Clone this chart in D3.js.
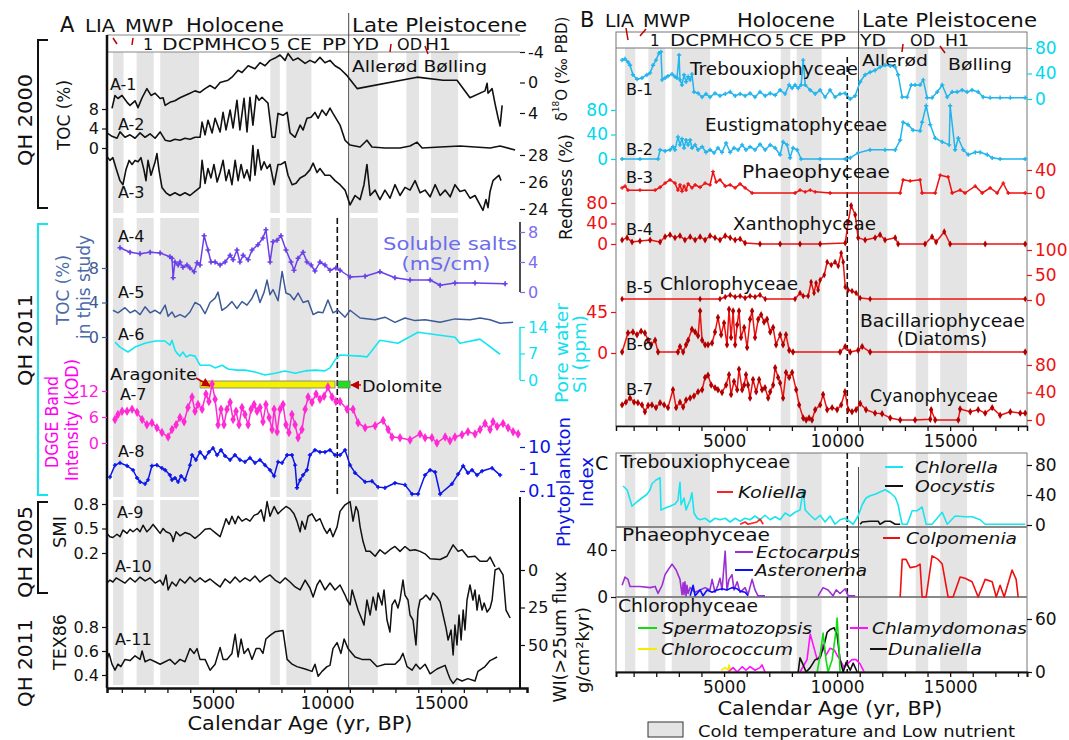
<!DOCTYPE html>
<html>
<head>
<meta charset="utf-8">
<script src="https://cdn.jsdelivr.net/npm/d3@7/dist/d3.min.js"></script>
<style>
  body { margin: 0; background: #fff; }
  svg text { font-family: "DejaVu Sans", "Liberation Sans", Arial, sans-serif; }
</style>
</head>
<body>
<svg id="chart" width="1069" height="740"></svg>
<script>
// ---- data: [age (yr BP), value] ----
const coldBands = [[615,1075],[1650,2400],[2685,4385],[7510,7930],[8215,9315],[11015,12225],[13480,14030],[14560,15750]];
const holoceneEnd = 10950;
const dashedAge = 10450;
const ageTicks = [1000,2000,3000,4000,5000,6000,7000,8000,9000,10000,11000,12000,13000,14000,15000,16000,17000,18000];
const ageLabels = [5000, 10000, 15000];
const mineralNames = ["Aragonite", "Dolomite"];
const mineralStart = [4430, 10480];
const mineralEnd = [10350, 11010];

const a1 = [[570,3.4],[700,1.7],[830,2.1],[1010,1.7],[1230,2.6],[1360,3.0],[1580,2.4],[1710,3.3],[1890,2.0],[2100,0.8],[2280,1.7],[2460,1.4],[2680,2.1],[2810,2.0],[2900,3.0],[3110,2.6],[3330,2.4],[3550,2.0],[3770,1.7],[3990,1.4],[4210,1.1],[4430,1.3],[4650,0.8],[4870,0.4],[5090,0.8],[5310,0],[5660,-0.3],[5830,-0.7],[6100,-1.6],[6270,-1.3],[6540,-2.2],[6840,-1.8],[7060,-2.6],[7280,-2.2],[7500,-2.9],[7720,-3.2],[7940,-3.6],[8160,-2.9],[8290,-3.8],[8510,-2.9],[8730,-3.2],[9040,-2.5],[9250,-2.9],[9470,-2.6],[9690,-3.3],[9910,-2.6],[10130,-2.9],[10350,-2.2],[10570,-1.8],[10880,-0.9],[11320,0.8],[13950,-0.7],[15090,-0.3],[15700,-0.3],[16270,2.0],[16930,1.1],[17020,0.1],[17060,1.4],[17240,0.8],[17370,2.8],[17500,4.6],[17590,5.7],[17680,3.0]];
const a2 = [[350,3.1],[570,2.4],[790,2.0],[920,3.3],[1140,2.2],[1360,2.7],[1580,2.0],[1800,3.1],[2020,2.2],[2240,2.9],[2460,2.0],[2680,3.3],[2900,1.6],[3110,1.4],[3330,1.8],[3550,1.6],[3770,2.0],[3990,1.8],[4210,2.2],[4430,2.2],[4520,5.3],[4650,2.7],[4780,5.7],[4960,3.1],[5090,6.1],[5310,3.3],[5440,7.3],[5570,3.7],[5750,7.8],[5880,4.1],[6050,9.8],[6180,3.7],[6360,10.2],[6490,3.3],[6620,10.4],[6750,4.7],[6890,10.8],[7020,9.8],[7150,10.4],[7280,9.8],[7410,9.2],[7590,2.2],[7720,2.2],[7850,7.1],[8070,6.7],[8250,7.3],[8380,3.1],[8600,2.2],[8820,4.7],[8950,3.7],[9120,6.1],[9300,6.3],[9470,7.3],[9610,6.1],[9780,7.8],[9960,6.7],[10130,8.2],[10260,7.1],[10570,4.7],[10790,1.6],[11010,0.6],[11450,0.2],[11750,1.6],[11970,0.2],[12540,0],[13200,0],[13640,0.4],[13950,1.2],[14170,0],[14960,0.2],[15830,0.4],[16490,0.2],[17150,0],[17590,0.4],[18250,-0.4]];
const a3 = [[350,27.9],[480,27.6],[610,27.8],[750,27.0],[920,26.1],[1050,25.8],[1180,26.9],[1320,27.6],[1450,27.3],[1580,27.6],[1710,27.5],[1840,27.8],[1970,26.9],[2060,26.1],[2150,27.6],[2280,26.5],[2460,27.5],[2540,28.1],[2630,26.9],[2760,25.6],[2940,25.2],[3110,25.0],[3330,25.2],[3550,25.0],[3770,25.2],[3990,25.0],[4210,25.3],[4430,25.6],[4520,27.6],[4650,25.9],[4780,27.0],[4910,26.3],[5040,27.3],[5180,26.0],[5310,26.7],[5440,27.6],[5570,26.1],[5700,26.9],[5830,25.8],[5970,27.6],[6100,26.1],[6230,27.3],[6360,26.3],[6490,26.9],[6620,26.1],[6750,28.7],[6840,26.5],[6970,28.4],[7110,26.9],[7240,27.5],[7370,27.0],[7500,27.3],[7680,25.8],[7850,27.3],[7980,27.3],[8160,27.5],[8290,26.5],[8470,25.8],[8640,25.9],[8820,26.3],[9040,26.5],[9250,26.9],[9390,27.4],[9560,26.7],[9690,27.0],[9910,26.5],[10130,26.5],[10350,26.1],[10570,25.8],[10790,25.4],[11010,24.3],[11230,25.0],[11450,24.7],[11620,25.8],[11750,27.3],[11890,25.0],[12110,25.4],[12320,24.7],[12540,25.4],[12760,24.8],[12980,25.8],[13200,25.0],[13420,25.6],[13640,25.4],[13860,26.1],[14080,25.2],[14300,25.4],[14520,24.9],[14740,25.8],[14960,25.0],[15180,25.4],[15400,24.9],[15610,25.8],[15830,25.3],[16050,25.4],[16270,24.8],[16490,25.0],[16710,24.3],[16840,23.9],[16970,24.7],[17060,24.1],[17150,25.3],[17280,26.1],[17410,26.3],[17540,26.5],[17630,26.1]];
const a4 = [[920,5.9],[1360,5.3],[1800,5.1],[2240,5.3],[2680,5.2],[3110,4.7],[3200,4.5],[3250,1.9],[3330,4.0],[3470,3.6],[3550,4.0],[3680,3.3],[3860,3.6],[3990,3.2],[4170,2.7],[4300,3.9],[4430,3.6],[4610,7.5],[4780,5.6],[4910,4.0],[5090,4.0],[5310,3.6],[5530,4.0],[5750,4.9],[5880,4.3],[6050,5.6],[6180,4.0],[6320,4.9],[6540,4.3],[6710,5.6],[6970,6.3],[7190,7.2],[7320,8.3],[7500,4.0],[7630,6.7],[7810,6.9],[7980,7.5],[8200,5.6],[8420,4.0],[8550,2.9],[8730,4.5],[8950,5.3],[9120,4.0],[9300,3.6],[9470,2.8],[9690,4.0],[9910,3.6],[10130,2.9],[10390,3.2],[10570,2.9],[11010,2.0],[11670,2.1],[12320,2.7],[12980,1.9],[13640,1.6],[14520,1.6],[14960,0.9],[15610,1.2],[16490,1.2],[17810,1.1]];
const a5 = [[610,3.1],[830,2.8],[1140,3.4],[1360,2.8],[1580,3.1],[1800,2.6],[2020,3.5],[2240,2.8],[2460,3.1],[2680,2.7],[2900,3.7],[3030,2.4],[3200,2.9],[3330,2.3],[3550,2.6],[3770,2.3],[3990,2.9],[4210,4.0],[4430,3.7],[4650,2.7],[4870,4.0],[5090,4.5],[5220,5.2],[5390,3.1],[5610,3.5],[5830,4.1],[6050,3.3],[6270,4.1],[6490,3.7],[6710,4.5],[6890,5.5],[7060,4.0],[7240,5.2],[7370,6.6],[7500,4.9],[7630,5.5],[7850,4.2],[8030,7.6],[8200,5.1],[8380,4.9],[8550,4.3],[8730,5.1],[8950,4.0],[9170,4.2],[9390,2.6],[9610,2.9],[9820,2.8],[10040,4.3],[10260,2.8],[10480,3.1],[10790,2.3],[11010,3.1],[11450,2.2],[12110,2.0],[12540,2.3],[12980,1.7],[13420,2.2],[13860,1.9],[14300,2.0],[14960,1.7],[15610,2.1],[16270,2.0],[16710,2.2],[17150,2.0],[17590,1.6],[18160,1.7]];
const a6 = [[700,10.0],[920,8.7],[1270,7.4],[1580,8.7],[2020,9.7],[2460,10.3],[2890,10.3],[3110,9.2],[3200,10.5],[3330,7.9],[3420,7.1],[3550,6.3],[3680,7.4],[3820,6.1],[3990,6.6],[4210,6.3],[4430,3.9],[4870,3.9],[5090,3.2],[5390,3.9],[5660,2.9],[6050,2.6],[6400,2.6],[6840,2.1],[7280,1.3],[7720,1.8],[8160,2.4],[8600,1.8],[9040,2.4],[9470,2.6],[9910,2.4],[10130,3.2],[10350,5.3],[10570,6.6],[11450,6.3],[11750,6.1],[12320,10.5],[13110,9.7],[13990,12.6],[14960,11.8],[15610,11.3],[15830,9.7],[16710,10.8],[17590,6.8]];
const a7 = [[700,5.4],[830,6.6],[1010,7.3],[1230,7.3],[1450,7.8],[1670,7.1],[1890,5.4],[2100,4.2],[2320,4.7],[2540,3.5],[2760,2.4],[3030,1.4],[3200,3.1],[3380,4.2],[3550,5.9],[3730,4.9],[3900,8.2],[4080,10.6],[4210,7.3],[4340,8.9],[4520,7.8],[4690,11.3],[4820,9.6],[4960,13.6],[5090,10.1],[5220,4.2],[5350,7.8],[5480,4.2],[5610,7.8],[5750,9.4],[5880,5.4],[6010,7.3],[6140,4.2],[6270,8.2],[6400,6.6],[6540,4.2],[6670,7.8],[6800,8.9],[6930,7.3],[7060,8.2],[7190,4.9],[7320,8.9],[7460,5.9],[7590,3.1],[7680,7.8],[7810,2.6],[7940,7.8],[8070,8.9],[8200,4.2],[8330,2.4],[8460,6.6],[8600,4.2],[8730,1.2],[8900,3.1],[9040,7.8],[9170,10.6],[9340,9.4],[9520,11.3],[9690,10.1],[9870,10.8],[10040,12.9],[10220,10.6],[10390,9.6],[10570,9.6],[10880,7.8],[11140,7.8],[11360,4.7],[11670,3.5],[12110,4.0],[12460,5.2],[12680,3.1],[12850,1.4],[13200,1.2],[13640,0.7],[14080,2.1],[14300,1.2],[14600,1.2],[14820,0],[15180,1.4],[15390,0.5],[15610,1.4],[15920,1.9],[16180,2.6],[16490,2.1],[16710,3.1],[16930,4.5],[17150,3.1],[17280,4.9],[17460,3.8],[17720,4.5],[17940,3.5],[18160,2.6],[18380,2.1]];
const a8 = [[480,0.43],[700,1.5],[920,1.9],[1230,1.4],[1490,0.9],[1670,0.39],[1800,0.26],[2020,0.21],[2150,0.32],[2320,1.4],[2540,1.5],[2760,1.1],[2900,0.9],[3110,0.53],[3200,0.32],[3330,0.39],[3470,0.26],[3600,0.48],[3770,0.32],[3990,1.5],[4080,4.3],[4250,2.6],[4430,5.9],[4650,3.2],[4820,5.9],[5000,8.9],[5180,4.3],[5350,7.3],[5530,3.9],[5750,2.6],[5960,4.3],[6180,2.6],[6400,2.1],[6620,3.2],[6840,1.9],[7060,2.6],[7280,1.5],[7500,0.9],[7680,0.48],[7850,2.1],[8030,1.9],[8250,4.3],[8460,4.3],[8600,1.5],[8680,0.14],[8820,0.32],[8950,0.53],[9120,0.9],[9250,4.3],[9470,7.3],[9690,5.9],[9910,5.9],[10130,7.3],[10350,4.3],[10570,4.3],[10790,7.3],[11010,1.5],[11230,0.66],[11670,0.26],[11970,0.28],[12240,0.15],[12540,0.14],[12980,0.23],[13420,0.19],[13730,0.073],[13990,0.073],[14300,0.53],[14520,0.9],[14740,0.73],[14960,0.073],[15480,0.21],[15750,0.59],[15970,1.37],[16180,0.66],[16360,0.9],[16580,0.53],[16800,0.81],[17240,1.1],[17590,0.53]];
const a9 = [[350,0.44],[480,0.40],[610,0.39],[790,0.43],[920,0.40],[1050,0.48],[1230,0.44],[1360,0.49],[1490,0.46],[1670,0.50],[1800,0.46],[1930,0.54],[2100,0.46],[2240,0.50],[2370,0.55],[2540,0.49],[2680,0.44],[2810,0.50],[2940,0.46],[3110,0.44],[3200,0.40],[3250,0.34],[3380,0.46],[3550,0.41],[3770,0.45],[3990,0.43],[4210,0.38],[4430,0.43],[4650,0.49],[4870,0.50],[5090,0.45],[5310,0.40],[5480,0.54],[5570,0.62],[5700,0.55],[5830,0.65],[5970,0.56],[6100,0.65],[6270,0.59],[6450,0.62],[6620,0.59],[6800,0.66],[6970,0.68],[7110,0.73],[7240,0.59],[7370,0.83],[7500,0.65],[7680,0.77],[7850,0.68],[8030,0.73],[8200,0.77],[8380,0.74],[8550,0.68],[8680,0.59],[8820,0.46],[8900,0.59],[9040,0.49],[9170,0.65],[9340,0.68],[9520,0.59],[9690,0.62],[9870,0.50],[10000,0.44],[10130,0.50],[10260,0.40],[10440,0.52],[10570,0.71],[10790,0.79],[11010,0.83],[11140,0.59],[11270,0.77],[11360,0.71],[11450,0.52],[11580,0.34],[11710,0.22],[11890,0.22],[12110,0.16],[12320,0.24],[12540,0.19],[12760,0.24],[12980,0.28],[13200,0.22],[13420,0.28],[13640,0.23],[13860,0.24],[14080,0.22],[14300,0.19],[14520,0.13],[14960,0.12],[15260,0.16],[15530,0.30],[15750,0.22],[15920,0.24],[16180,0.15],[16490,0.16],[16710,0.10],[17020,0.10],[17150,0.15],[17370,0.03]];
const a10 = [[350,8.7],[480,6.7],[610,8],[750,5.3],[920,6.7],[1140,8.7],[1360,5.3],[1580,8],[1800,4.7],[2020,7.3],[2240,5.3],[2460,8.7],[2680,6.7],[2810,10],[2940,3.3],[3030,13.3],[3200,8],[3380,10.7],[3550,6],[3770,8.7],[3990,4.7],[4210,8],[4430,5.3],[4650,8],[4870,6],[5090,8.7],[5310,11.3],[5530,6],[5750,8.7],[5970,4.7],[6180,8],[6400,5.3],[6620,7.3],[6840,4],[7060,8],[7280,5.3],[7500,3.3],[7720,6.7],[7940,8.7],[8160,5.3],[8380,8],[8600,11.3],[8820,13.3],[9040,6.7],[9250,12],[9390,18],[9560,10],[9690,6.7],[9910,13.3],[10130,8.7],[10350,13.3],[10570,10],[10790,16.7],[10880,20],[11010,23.3],[11100,13.3],[11230,20],[11360,26.7],[11540,33.3],[11620,36.7],[11750,20],[11890,30],[12020,18],[12150,26.7],[12240,15.3],[12410,23.3],[12500,13.3],[12630,33.3],[12760,41.3],[12850,23.3],[12980,20],[13110,25.3],[13200,20],[13330,6.7],[13420,16.7],[13550,20],[13640,30],[13770,33.3],[13900,50],[13990,26.7],[14080,20],[14210,18.7],[14340,16.7],[14520,20],[14650,15.3],[14820,18],[14960,21.3],[15090,30],[15220,38.7],[15310,46.7],[15440,40],[15530,56.7],[15610,36.7],[15700,50],[15790,30],[15880,46.7],[15970,26.7],[16050,40],[16140,20],[16270,10],[16400,20],[16490,13.3],[16580,26.7],[16670,16.7],[16800,26.7],[16890,22],[17020,28],[17150,25.3],[17240,20],[17370,0],[17540,-1.3],[17720,3.3],[17850,26.7],[18030,32]];
const a11 = [[350,0.53],[440,0.58],[570,0.49],[700,0.44],[830,0.49],[960,0.47],[1140,0.53],[1360,0.52],[1580,0.56],[1800,0.53],[1890,0.60],[2020,0.51],[2240,0.53],[2460,0.51],[2680,0.49],[2900,0.51],[3110,0.53],[3330,0.49],[3550,0.53],[3770,0.51],[3990,0.62],[4170,0.58],[4300,0.62],[4430,0.53],[4650,0.53],[4870,0.44],[5090,0.49],[5310,0.63],[5440,0.53],[5610,0.53],[5830,0.58],[5970,0.74],[6100,0.55],[6230,0.70],[6360,0.58],[6540,0.62],[6710,0.53],[6890,0.62],[7060,0.62],[7190,0.58],[7320,0.70],[7500,0.73],[7720,0.76],[8070,0.77],[8250,0.53],[8470,0.49],[8680,0.47],[9040,0.45],[9340,0.43],[9470,0.49],[9610,0.39],[9780,0.43],[10000,0.47],[10130,0.48],[10260,0.62],[10440,0.67],[10610,0.58],[10750,0.70],[10920,0.62],[11100,0.58],[11230,0.55],[11530,0.53],[11890,0.53],[12190,0.47],[12540,0.49],[12980,0.49],[13200,0.53],[13330,0.58],[13510,0.47],[13730,0.44],[13900,0.49],[14080,0.45],[14300,0.49],[14520,0.41],[14820,0.45],[15180,0.48],[15310,0.41],[15390,0.37],[15530,0.33],[15700,0.37],[15920,0.35],[16180,0.37],[16490,0.35],[16620,0.43],[16930,0.47],[17150,0.52],[17460,0.55]];

const b1 = [[490,61],[620,63],[750,58],[840,53],[970,38],[1150,31],[1370,33],[1590,38],[1730,41],[1860,53],[1990,61],[2120,72],[2210,74],[2260,30],[2390,33],[2520,36],[2700,39],[2830,35],[2920,33],[3010,69],[3050,30],[3140,22],[3230,38],[3320,27],[3410,35],[3500,30],[3580,39],[3670,11],[3850,9],[4030,3],[4200,8],[4380,3],[4600,9],[4820,5],[5050,8],[5270,11],[5490,5],[5710,8],[5930,5],[6150,9],[6370,3],[6590,11],[6820,5],[7040,9],[7260,6],[7480,14],[7700,8],[7880,22],[8010,17],[8140,22],[8280,17],[8410,22],[8500,61],[8590,22],[8810,14],[9030,8],[9250,14],[9470,3],[9690,14],[9910,3],[10130,8],[10360,9],[10580,0],[10800,5],[11020,27],[11240,38],[11460,42],[11680,45],[11900,50],[12120,53],[12350,52],[12570,50],[12700,38],[12880,3],[13100,3],[13280,22],[13450,22],[13670,22],[13810,30],[13980,2],[14200,2],[14430,11],[14650,22],[14870,3],[15090,11],[15310,11],[15530,14],[15750,11],[15970,14],[16240,11],[16460,3],[16770,2],[17210,2],[17660,2],[18320,2]];
const b2 = [[490,0],[1280,0],[2080,0],[2170,15],[2390,13],[2610,15],[2740,20],[2830,15],[2960,36],[3050,23],[3140,33],[3230,18],[3320,31],[3410,23],[3500,31],[3580,18],[3720,23],[3850,15],[4030,20],[4200,11],[4380,15],[4560,10],[4730,18],[4910,11],[5090,26],[5270,11],[5440,18],[5620,15],[5800,23],[5970,15],[6150,20],[6370,15],[6590,24],[6820,15],[7040,23],[7260,18],[7480,7],[7610,28],[7790,23],[7920,2],[8050,18],[8230,15],[8410,0],[9250,0],[10360,0],[10580,2],[10930,10],[11460,15],[12120,15],[12570,15],[12790,31],[12920,60],[13140,56],[13360,47],[13670,46],[13760,60],[13940,87],[14120,56],[14340,34],[14650,28],[14960,23],[15000,87],[15220,15],[15360,34],[15580,15],[15800,7],[16110,11],[16330,11],[16640,7],[16860,2],[17210,0],[18320,0]];
const b3 = [[490,9],[620,12],[750,5],[1280,5],[1950,5],[2170,10],[2390,17],[2610,23],[2830,17],[2960,5],[3050,14],[3140,3],[3230,12],[3320,5],[3410,16],[3580,9],[3720,14],[3940,10],[4160,17],[4380,14],[4510,37],[4650,19],[4820,23],[5050,12],[5270,14],[5490,9],[5710,16],[5930,9],[6240,0],[8140,0],[8360,5],[8590,2],[8810,5],[9030,2],[9690,0],[12790,0],[12920,23],[13230,21],[13670,23],[13760,0],[14340,0],[14560,31],[14910,28],[15090,0],[15440,5],[15660,0],[16110,12],[16420,0],[16770,9],[17080,0],[17350,17],[17570,0],[18320,0]];
const b4 = [[490,8],[710,12],[930,4],[1280,6],[1730,8],[2170,4],[2390,14],[2610,18],[2830,12],[3050,16],[3270,8],[3500,14],[3720,8],[3940,14],[4160,8],[4380,16],[4600,12],[4820,8],[5050,16],[5270,12],[5490,8],[5710,10],[5930,2],[6590,0],[7480,0],[8360,0],[9250,0],[10360,2],[10490,43],[10620,75],[10800,57],[10930,12],[11240,8],[11680,12],[11900,18],[12120,8],[12570,12],[12700,0],[13890,0],[14200,14],[14380,4],[14740,24],[15000,0],[16550,0],[18320,0]];
const b5 = [[490,2],[3940,2],[4820,2],[5050,6],[5270,10],[5490,6],[5710,8],[5930,4],[6150,8],[6370,6],[6590,10],[6820,2],[8140,2],[8360,14],[8500,8],[8720,8],[8850,36],[8980,14],[9070,34],[9160,20],[9250,40],[9430,50],[9560,76],[9740,70],[9910,76],[10050,68],[10180,94],[10270,76],[10360,26],[10490,20],[10660,18],[10840,14],[11020,4],[11460,2],[18320,2]];
const b6 = [[490,1],[750,22],[970,23],[1150,20],[1330,24],[1500,22],[1640,14],[1770,9],[1950,14],[2080,1],[2960,1],[3050,7],[3190,1],[3320,9],[3410,14],[3580,26],[3720,23],[3850,19],[3940,46],[4030,14],[4160,9],[4290,9],[4470,11],[4600,23],[4730,39],[4870,20],[5000,33],[5130,9],[5220,48],[5310,17],[5400,46],[5490,9],[5580,31],[5660,46],[5750,17],[5890,28],[6020,6],[6150,37],[6240,46],[6370,17],[6510,37],[6640,42],[6770,34],[6900,37],[7040,23],[7170,28],[7300,9],[7480,20],[7610,9],[7740,20],[7880,3],[8050,1],[10130,1],[10360,7],[10580,1],[10930,3],[11110,7],[11460,1],[18320,1]];
const b7 = [[490,22],[660,26],[840,32],[1020,26],[1190,25],[1370,22],[1500,12],[1640,21],[1810,22],[1990,18],[2170,25],[2350,22],[2520,18],[2740,44],[2880,18],[3050,26],[3190,19],[3320,29],[3500,32],[3670,35],[3850,41],[4030,44],[4160,62],[4290,65],[4430,51],[4600,47],[4730,44],[4910,40],[5090,51],[5220,66],[5310,37],[5440,56],[5580,44],[5660,74],[5800,44],[5890,51],[5970,66],[6060,51],[6150,32],[6280,59],[6420,41],[6550,59],[6680,44],[6810,47],[6950,32],[7040,41],[7170,51],[7260,76],[7390,62],[7480,54],[7610,32],[7740,69],[7880,62],[8010,69],[8190,44],[8320,22],[8500,3],[8630,0],[8760,3],[8890,0],[9030,15],[9250,22],[9380,37],[9560,15],[9780,18],[10000,15],[10180,22],[10350,41],[10490,15],[10660,12],[10840,15],[11020,24],[11280,15],[11680,10],[11990,9],[12350,3],[12790,0],[13450,0],[14120,1],[14160,15],[14340,0],[15360,0],[15440,16],[15890,12],[16240,15],[16550,10],[16860,18],[17210,7],[17660,12],[18100,10],[18320,10]];

const chlorella = [[530,52],[710,47],[930,25],[1150,31],[1370,36],[1590,41],[1730,47],[1810,55],[1990,60],[2170,63],[2210,20],[2430,23],[2610,25],[2830,28],[2960,33],[3050,57],[3100,27],[3230,36],[3320,20],[3410,27],[3500,33],[3580,43],[3670,16],[3810,9],[3940,7],[4160,9],[4380,4],[4600,9],[4820,7],[5050,9],[5270,4],[5490,9],[5710,5],[5930,9],[6150,7],[6370,12],[6590,7],[6810,13],[7040,7],[7260,11],[7480,7],[7700,16],[7920,12],[8140,17],[8360,20],[8500,47],[8590,20],[8810,13],[9030,7],[9250,13],[9470,4],[9690,12],[9910,1],[10130,7],[10350,9],[10580,4],[10710,1],[10930,12],[11110,27],[11280,36],[11460,39],[11680,41],[11900,44],[12120,47],[12350,43],[12570,37],[12700,27],[12790,13],[12880,1],[13100,1],[13320,19],[13540,19],[13760,24],[13940,1],[14200,1],[14650,17],[14870,1],[15220,12],[15660,11],[15970,11],[16330,7],[16550,1],[17210,1],[18320,1]];
const koliella = [[5710,1],[5930,4],[6060,1],[6460,4],[6590,8],[6730,1]];
const oocystis = [[11020,1],[11110,4],[11460,5],[11820,5],[11900,1],[12120,5],[12350,5],[12570,1],[12790,1]];
const ectocarpus = [[490,10],[620,17],[750,15],[840,9],[1280,9],[1730,8],[1950,9],[2080,3],[2260,10],[2390,19],[2520,23],[2700,28],[2880,23],[3050,15],[3140,2],[3190,12],[3230,2],[3270,13],[3320,1],[3360,10],[3410,3],[3500,8],[3720,4],[3940,6],[4160,8],[4380,6],[4470,15],[4600,4],[4730,10],[4820,16],[4910,6],[5050,39],[5130,6],[5220,15],[5350,19],[5440,6],[5580,13],[5710,4],[5930,8],[6060,2],[6240,15],[6370,6],[6500,1],[6810,1],[7000,null],[9160,1],[9380,8],[9600,6],[9820,1],[9960,6],[10130,3],[10360,7],[10490,1],[10800,1]];
const asteronema = [[3500,1],[3630,10],[3720,1],[3940,6],[4070,1],[4250,6],[4470,4],[4690,6],[4910,7],[5130,6],[5350,8],[5580,7],[5710,5],[5930,4],[6060,1]];
const colpomenia = [[12790,0],[12880,32],[13050,32],[13230,25],[13500,26],[13670,28],[13760,0],[13940,0],[14200,35],[14470,32],[14650,28],[14910,0],[15130,0],[15440,17],[15660,16],[15970,13],[16240,0],[16550,15],[16860,13],[17040,0],[17210,10],[17390,0],[17740,23],[17920,15],[18010,0]];
const chlorococcum = [[4870,2],[5050,5],[5180,2],[5220,8],[5310,0]];
const chlamydomonas = [[5180,0],[5400,5],[5580,0],[5800,6],[5970,2],[6150,6],[6370,2],[6590,5],[6680,8],[6810,0],[7500,null],[8360,0],[8670,14],[8810,43],[8940,31],[9120,14],[9250,19],[9340,31],[9510,19],[9690,27],[9870,25],[10000,19],[10130,14],[10310,5],[10490,10],[10660,14],[10840,14],[11020,9],[11200,0]];
const spermatozopsis = [[9120,0],[9250,19],[9380,44],[9510,14],[9600,0],[9780,14],[9960,48],[10000,61],[10090,25],[10130,0]];
const dunaliella = [[8280,0],[8360,16],[8500,8],[8630,0],[8810,5],[9030,14],[9250,16],[9430,31],[9560,45],[9690,48],[9870,50],[10000,42],[10130,14],[10270,0],[10400,11],[10580,2],[10710,10],[10890,0]];

// ---- drawing ----
const svg = d3.select("#chart");
const FONT = '"DejaVu Sans", "Liberation Sans", Arial, sans-serif';
const BAND = "#e4e4e4";
const RED = "#ee1111", CYB = "#22b4ec", CYL = "#00d8ee";

const xA = d3.scaleLinear().domain([350, 18770]).range([107, 527]);
const xB = d3.scaleLinear().domain([220, 18400]).range([616, 1027]);

const yA1 = d3.scaleLinear().domain([-4, 4]).range([52, 113]);
const yA2 = d3.scaleLinear().domain([0, 8]).range([148, 109]);
const yA3 = d3.scaleLinear().domain([24, 28]).range([209, 155]);
const yA4 = d3.scaleLinear().domain([0, 8]).range([292, 232]);
const yA5 = d3.scaleLinear().domain([0, 8]).range([337, 268]);
const yA6 = d3.scaleLinear().domain([0, 14]).range([380, 327]);
const yA7 = d3.scaleLinear().domain([0, 12]).range([443, 391]);
const yA8 = d3.scaleLog().domain([0.1, 10]).range([491, 447]);
const yA9 = d3.scaleLinear().domain([0.2, 0.8]).range([553, 504]);
const yA10 = d3.scaleLinear().domain([0, 50]).range([570, 645]);
const yA11 = d3.scaleLinear().domain([0.4, 0.8]).range([675, 627]);

const yB1 = d3.scaleLinear().domain([0, 80]).range([99, 48]);
const yB2 = d3.scaleLinear().domain([0, 80]).range([159, 110]);
const yB3 = d3.scaleLinear().domain([0, 40]).range([193, 170]);
const yB4 = d3.scaleLinear().domain([0, 80]).range([244, 203]);
const yB5 = d3.scaleLinear().domain([0, 100]).range([300, 250]);
const yB6 = d3.scaleLinear().domain([0, 45]).range([353, 312]);
const yB7 = d3.scaleLinear().domain([0, 80]).range([420, 365]);
const yC1 = d3.scaleLinear().domain([0, 80]).range([525, 465]);
const yC2 = d3.scaleLinear().domain([0, 40]).range([597, 550]);
const yC3 = d3.scaleLinear().domain([0, 60]).range([672, 619]);

svg.append("defs").append("marker").attr("id", "arr")
  .attr("viewBox", "0 0 10 10").attr("refX", 9).attr("refY", 5)
  .attr("markerWidth", 6).attr("markerHeight", 6).attr("orient", "auto")
  .append("path").attr("d", "M0,0L10,5L0,10z").attr("fill", "#c00000");

function bands(x, y0, y1) {
  svg.append("g").selectAll("rect").data(coldBands).join("rect")
    .attr("x", d => x(d[0])).attr("width", d => x(d[1]) - x(d[0]))
    .attr("y", y0).attr("height", y1 - y0).attr("fill", BAND);
}
bands(xA, 52, 213); bands(xA, 218, 497); bands(xA, 500, 685);
bands(xB, 48, 425); bands(xB, 453, 672);

function txt(x, y, s, o = {}) {
  const t = svg.append("text").attr("x", x).attr("y", y)
    .attr("font-size", o.size || 16).attr("fill", o.fill || "#111");
  if (o.anchor) t.attr("text-anchor", o.anchor);
  if (o.italic) t.attr("font-style", "italic");
  if (o.rot) t.attr("transform", `rotate(-90 ${x} ${y})`).attr("text-anchor", "middle").attr("dominant-baseline", "central");
  t.text(s);
  if (o.len) t.attr("textLength", o.len).attr("lengthAdjust", "spacingAndGlyphs");
  return t;
}

function vline(x, y0, y1, o = {}) {
  svg.append("line").attr("x1", x).attr("x2", x).attr("y1", y0).attr("y2", y1)
    .attr("stroke", o.c || "#222").attr("stroke-width", o.w || 1)
    .attr("stroke-dasharray", o.dash || null);
}
function hline(y, x0, x1, o = {}) {
  svg.append("line").attr("x1", x0).attr("x2", x1).attr("y1", y).attr("y2", y)
    .attr("stroke", o.c || "#222").attr("stroke-width", o.w || 1);
}
function seg(x1, y1, x2, y2, c, w, arrow) {
  const l = svg.append("line").attr("x1", x1).attr("y1", y1).attr("x2", x2).attr("y2", y2)
    .attr("stroke", c).attr("stroke-width", w);
  if (arrow) l.attr("marker-end", "url(#arr)");
}

function curve(data, x, y, color, o = {}) {
  const line = d3.line().defined(d => d[1] !== null).x(d => x(d[0])).y(d => y(d[1]));
  svg.append("path").datum(data).attr("d", line).attr("fill", "none")
    .attr("stroke", color).attr("stroke-width", o.w || 1.5).attr("stroke-linejoin", "round");
  if (o.sym) {
    svg.append("g").selectAll("path").data(data.filter(d => d[1] !== null)).join("path")
      .attr("transform", d => `translate(${x(d[0])},${y(d[1])})`)
      .attr("d", d3.symbol().type(o.sym).size(o.size || 14))
      .attr("fill", o.mc || color);
  }
}

function yAxis(scale, x, side, ticks, color, size) {
  const ax = (side === "left" ? d3.axisLeft(scale) : d3.axisRight(scale))
    .tickValues(ticks).tickSize(5).tickPadding(3).tickFormat(d => String(d));
  const g = svg.append("g").attr("transform", `translate(${x},0)`).call(ax)
    .attr("font-family", FONT).attr("font-size", size || 16);
  g.select(".domain").remove();
  g.selectAll(".tick line").attr("stroke", color).attr("stroke-width", 1.2);
  g.selectAll(".tick text").attr("fill", color);
  return g;
}

function xAxis(scale, y, w) {
  const ax = d3.axisBottom(scale).tickValues(ageTicks).tickSize(5).tickPadding(4)
    .tickFormat(d => ageLabels.includes(d) ? String(d) : "");
  const g = svg.append("g").attr("transform", `translate(0,${y})`).call(ax)
    .attr("font-family", FONT).attr("font-size", 17);
  g.select(".domain").attr("stroke-width", w).attr("stroke", "#111");
  g.selectAll(".tick line").attr("stroke", "#111").attr("stroke-width", 1.3);
  g.selectAll(".tick text").attr("fill", "#111");
}

// ================= PANEL A =================
hline(35, 107, 520, { c: "#888" });
hline(52, 107, 520, { c: "#888" });
vline(xA(holoceneEnd), 13, 688, { c: "#444" });
vline(xA(dashedAge), 218, 497, { c: "#111", w: 1.6, dash: "6,3" });

txt(60, 32, "A", { size: 21 });
txt(85, 32, "LIA", { size: 17, len: 30 });
txt(125, 32, "MWP", { size: 17, len: 48 });
txt(186, 32, "Holocene", { size: 19, len: 98 });
txt(352, 32, "Late Pleistocene", { size: 19, len: 175 });
txt(143, 50, "1", { size: 16 });
txt(162, 50, "DCPMHCO", { size: 16, len: 105 });
txt(270, 50, "5", { size: 16 });
txt(287, 50, "CE", { size: 16, len: 25 });
txt(322, 50, "PP", { size: 16, len: 24 });
txt(353, 50, "YD", { size: 16, len: 26 });
txt(397, 50, "OD", { size: 16, len: 25 });
txt(425, 50, "H1", { size: 16, len: 26 });
txt(352, 72, "Allerød Bølling", { size: 16, len: 135 });
seg(113, 38, 117, 44, "#c00000", 1.5);
seg(133, 38, 132, 45, "#c00000", 1.5);
seg(390, 52, 391, 44, "#c00000", 1.5);
seg(425, 46, 428, 54, "#c00000", 1.5);

// mineral bar
const mineralColors = ["#f4f000", "#22dd22"];
svg.append("g").selectAll("rect").data(mineralNames).join("rect")
  .attr("x", (d, i) => xA(mineralStart[i])).attr("width", (d, i) => xA(mineralEnd[i]) - xA(mineralStart[i]))
  .attr("y", 381).attr("height", 7).attr("fill", (d, i) => mineralColors[i])
  .attr("stroke", "#777").attr("stroke-width", 0.8);
txt(110, 380, "Aragonite", { size: 16, len: 87 });
seg(196, 378, xA(mineralStart[0]) + 10, 386, "#c00000", 1.5, true);
txt(362, 392, "Dolomite", { size: 16, len: 80 });
seg(361, 385, xA(mineralEnd[1]) + 1, 385, "#c00000", 1.5, true);

curve(a1, xA, yA1, "#111", { w: 1.6 });
curve(a2, xA, yA2, "#111", { w: 1.6 });
curve(a3, xA, yA3, "#111", { w: 1.6 });
curve(a4, xA, yA4, "#6a40e8", { w: 1.5, sym: d3.symbolCross, size: 14 });
curve(a5, xA, yA5, "#3d5a98", { w: 1.5 });
curve(a6, xA, yA6, "#12e6f0", { w: 1.6 });
curve(a7, xA, yA7, "#ff2ad4", { w: 1.5, sym: d3.symbolDiamond, size: 26 });
curve(a8, xA, yA8, "#0a14e6", { w: 1.5, sym: d3.symbolCross, size: 10 });
curve(a9, xA, yA9, "#111", { w: 1.5 });
curve(a10, xA, yA10, "#111", { w: 1.5 });
curve(a11, xA, yA11, "#111", { w: 1.5 });

// left axes
vline(107, 35, 688, { c: "#111", w: 2.5 });
yAxis(yA2, 107, "left", [0, 4, 8], "#111");
yAxis(yA5, 107, "left", [0, 4, 8], "#3d5a98");
yAxis(yA7, 107, "left", [0, 6, 12], "#ff22dd");
yAxis(yA9, 107, "left", [0.2, 0.5, 0.8], "#111");
yAxis(yA11, 107, "left", [0.4, 0.6, 0.8], "#111");
// right axes
vline(520, 222, 292, { c: "#111", w: 1.5 });
vline(520, 497, 688, { c: "#111", w: 2 });
vline(520, 327, 380, { c: "#12e6f0", w: 1.5 });
yAxis(yA1, 520, "right", [-4, 0, 4], "#111");
yAxis(yA3, 520, "right", [24, 26, 28], "#111");
yAxis(yA4, 520, "right", [0, 4, 8], "#7b6cf0");
yAxis(yA6, 520, "right", [0, 7, 14], "#12e0f0");
yAxis(yA8, 520, "right", [0.1, 1, 10], "#0a14e6", 18);
yAxis(yA10, 520, "right", [0, 25, 50], "#111");
xAxis(xA, 688, 2.5);
txt(300, 730, "Calendar Age (yr, BP)", { size: 19, anchor: "middle", len: 225 });

// series labels
[["A-1", 110, 90], ["A-2", 118, 130], ["A-3", 118, 198], ["A-4", 118, 242], ["A-5", 118, 298],
 ["A-6", 118, 340], ["A-7", 120, 400], ["A-8", 118, 457], ["A-9", 117, 518], ["A-10", 115, 572], ["A-11", 115, 645]]
  .forEach(([s, x, y]) => txt(x, y, s, { size: 16 }));

// left titles and brackets
function bracket(y0, y1, c) {
  svg.append("path").attr("d", `M48,${y0}H38V${y1}H48`).attr("fill", "none")
    .attr("stroke", c).attr("stroke-width", 2);
}
bracket(40, 208, "#111");
bracket(224, 495, "#12e6f0");
bracket(502, 593, "#111");
txt(25, 120, "QH 2000", { rot: true, size: 20, len: 92 });
txt(64, 115, "TOC (%)", { rot: true, size: 17, len: 70 });
txt(25, 340, "QH 2011", { rot: true, size: 20, len: 92 });
txt(63, 290, "TOC (%)", { rot: true, size: 17, len: 70, fill: "#4a6aaa" });
txt(84, 287, "in this study", { rot: true, size: 17, len: 104, fill: "#4a6aaa" });
txt(52, 422, "DGGE Band", { rot: true, size: 17, len: 92, fill: "#ff00ee" });
txt(72, 420, "Intensity (kOD)", { rot: true, size: 17, len: 122, fill: "#ff00ee" });
txt(60, 532, "SMI", { rot: true, size: 17, len: 32 });
txt(25, 552, "QH 2005", { rot: true, size: 20, len: 92 });
txt(60, 642, "TEX86", { rot: true, size: 17, len: 56 });
txt(25, 663, "QH 2011", { rot: true, size: 20, len: 88 });

// right titles
const d18 = svg.append("text").attr("font-size", 15).attr("fill", "#111")
  .attr("transform", "rotate(-90 562 69)").attr("x", 562).attr("y", 69)
  .attr("text-anchor", "middle").attr("dominant-baseline", "central");
d18.append("tspan").text("δ");
d18.append("tspan").attr("font-size", 9).attr("dy", -6).text("18");
d18.append("tspan").attr("dy", 6).text("O (‰ PBD)");
txt(566, 187, "Redness (%)", { rot: true, size: 17, len: 106 });
txt(450, 250, "Soluble salts", { size: 18, anchor: "middle", len: 134, fill: "#6b6bef" });
txt(446, 270, "(mS/cm)", { size: 18, anchor: "middle", len: 89, fill: "#6b6bef" });
txt(562, 353, "Pore water", { rot: true, size: 17, len: 100, fill: "#12e0f0" });
txt(580, 354, "Si (ppm)", { rot: true, size: 17, len: 78, fill: "#12e0f0" });
txt(564, 482, "Phytoplankton", { rot: true, size: 17, len: 130, fill: "#0a14e6" });
txt(587, 482, "Index", { rot: true, size: 17, len: 50, fill: "#0a14e6" });
txt(560, 637, "WI(>25um flux", { rot: true, size: 17, len: 131 });
txt(583, 650, "g/cm²kyr)", { rot: true, size: 17, len: 86 });

// ================= PANEL B =================
svg.append("rect").attr("x", 616).attr("y", 32).attr("width", 411).attr("height", 394)
  .attr("fill", "none").attr("stroke", "#777");
hline(48, 616, 1027, { c: "#777" });
vline(xB(holoceneEnd), 10, 426, { c: "#444" });
vline(xB(dashedAge), 57, 426, { c: "#111", w: 1.6, dash: "6,3" });

txt(580, 27, "B", { size: 21 });
txt(605, 27, "LIA", { size: 17, len: 29 });
txt(643, 27, "MWP", { size: 17, len: 47 });
txt(737, 27, "Holocene", { size: 19, len: 98 });
txt(862, 27, "Late Pleistocene", { size: 19, len: 175 });
txt(650, 46, "1", { size: 15 });
txt(670, 46, "DCPMHCO", { size: 15, len: 102 });
txt(775, 46, "5", { size: 15 });
txt(789, 46, "CE", { size: 15, len: 25 });
txt(820, 46, "PP", { size: 15, len: 26 });
txt(860, 46, "YD", { size: 15, len: 26 });
txt(910, 46, "OD", { size: 15, len: 25 });
txt(945, 46, "H1", { size: 15, len: 24 });
txt(862, 66, "Allerød", { size: 15, len: 66 });
txt(948, 70, "Bølling", { size: 15, len: 64 });
seg(626, 28, 628, 40, "#c00000", 1.5);
seg(646, 29, 640, 36, "#c00000", 1.5);
seg(903, 44, 902, 52, "#c00000", 1.5);
seg(940, 46, 945, 53, "#c00000", 1.5);

curve(b1, xB, yB1, CYB, { w: 1.5, sym: d3.symbolCross, size: 10 });
curve(b2, xB, yB2, CYB, { w: 1.5, sym: d3.symbolCross, size: 10 });
curve(b3, xB, yB3, RED, { w: 1.5, sym: d3.symbolCross, size: 8 });
curve(b4, xB, yB4, RED, { w: 1.5, sym: d3.symbolDiamond, size: 14, mc: "#b00000" });
curve(b5, xB, yB5, RED, { w: 1.5, sym: d3.symbolDiamond, size: 12, mc: "#b00000" });
curve(b6, xB, yB6, RED, { w: 1.5, sym: d3.symbolDiamond, size: 16, mc: "#b00000" });
curve(b7, xB, yB7, RED, { w: 1.5, sym: d3.symbolDiamond, size: 16, mc: "#b00000" });

yAxis(yB1, 1027, "right", [0, 40, 80], CYL, 17);
yAxis(yB3, 1027, "right", [0, 40], RED, 17);
yAxis(yB5, 1027, "right", [0, 50, 100], RED, 17);
yAxis(yB7, 1027, "right", [0, 40, 80], RED, 17);
yAxis(yB2, 616, "left", [0, 40, 80], CYL, 17);
yAxis(yB4, 616, "left", [0, 40, 80], RED, 17);
yAxis(yB6, 616, "left", [0, 45], RED, 17);
xAxis(xB, 426, 1.5);

[["B-1", 626, 95], ["B-2", 626, 155], ["B-3", 626, 183], ["B-4", 626, 235], ["B-5", 626, 293], ["B-6", 626, 350], ["B-7", 626, 395]]
  .forEach(([s, x, y]) => txt(x, y, s, { size: 16 }));
txt(690, 75, "Trebouxiophyceae", { size: 17, len: 168 });
txt(705, 131, "Eustigmatophyceae", { size: 17, len: 182 });
txt(742, 178, "Phaeophyceae", { size: 17, len: 148 });
txt(733, 230, "Xanthophyceae", { size: 17, len: 143 });
txt(660, 290, "Chlorophyceae", { size: 17, len: 138 });
txt(860, 327, "Bacillariophyceae", { size: 17, len: 165 });
txt(897, 345, "(Diatoms)", { size: 17, len: 90 });
txt(870, 402, "Cyanophyceae", { size: 17, len: 128 });

// ================= PANEL C =================
svg.append("rect").attr("x", 616).attr("y", 453).attr("width", 411).attr("height", 219)
  .attr("fill", "none").attr("stroke", "#777");
hline(527, 616, 1027, { c: "#888", w: 2 });
hline(597, 616, 1027, { c: "#888", w: 2 });
vline(xB(holoceneEnd), 467, 672, { c: "#444" });
vline(xB(dashedAge), 453, 672, { c: "#111", w: 1.6, dash: "6,3" });

curve(chlorella, xB, yC1, "#19e4ef", { w: 1.6 });
curve(koliella, xB, yC1, "#ff2020", { w: 1.6 });
curve(oocystis, xB, yC1, "#111", { w: 1.6 });
curve(ectocarpus, xB, yC2, "#9b30d0", { w: 1.6 });
curve(asteronema, xB, yC2, "#0a10ff", { w: 1.6 });
curve(colpomenia, xB, yC2, "#ee1010", { w: 1.6 });
curve(chlorococcum, xB, yC3, "#f2ee00", { w: 1.6 });
curve(chlamydomonas, xB, yC3, "#ff10ff", { w: 1.6 });
curve(dunaliella, xB, yC3, "#111", { w: 1.6 });
curve(spermatozopsis, xB, yC3, "#10dd10", { w: 1.6 });

yAxis(yC1, 1027, "right", [0, 40, 80], "#111", 17);
yAxis(yC2, 616, "left", [0, 40], "#111", 17);
yAxis(yC3, 1027, "right", [0, 60], "#111", 17);
xAxis(xB, 672, 2);

txt(595, 470, "C", { size: 19 });
txt(620, 468, "Trebouxiophyceae", { size: 17, len: 170 });
txt(622, 541, "Phaeophyceae", { size: 17, len: 148 });
txt(618, 612, "Chlorophyceae", { size: 17, len: 140 });
function legendItem(x0, x1, y, color, name, tx, tlen) {
  hline(y, x0, x1, { c: color, w: 2 });
  txt(tx, y + 6, name, { size: 16, italic: true, len: tlen });
}
legendItem(885, 903, 467, "#19e4ef", "Chlorella", 915, 83);
legendItem(885, 903, 486, "#111", "Oocystis", 915, 80);
legendItem(717, 733, 492, "#ff2020", "Koliella", 738, 69);
legendItem(883, 900, 538, "#ee1010", "Colpomenia", 906, 111);
legendItem(735, 753, 552, "#9b30d0", "Ectocarpus", 756, 104);
legendItem(735, 753, 570, "#0a10ff", "Asteronema", 755, 112);
legendItem(638, 657, 628, "#10dd10", "Spermatozopsis", 662, 150);
legendItem(638, 657, 649, "#f2ee00", "Chlorococcum", 661, 132);
legendItem(850, 868, 628, "#ff10ff", "Chlamydomonas", 872, 155);
legendItem(870, 887, 649, "#111", "Dunaliella", 888, 94);

txt(830, 715, "Calendar Age (yr, BP)", { size: 19, anchor: "middle", len: 225 });
svg.append("rect").attr("x", 648).attr("y", 722).attr("width", 35).attr("height", 15)
  .attr("fill", BAND).attr("stroke", "#333");
txt(698, 737, "Cold temperature and Low nutrient", { size: 16, len: 317 });
</script>
</body>
</html>
